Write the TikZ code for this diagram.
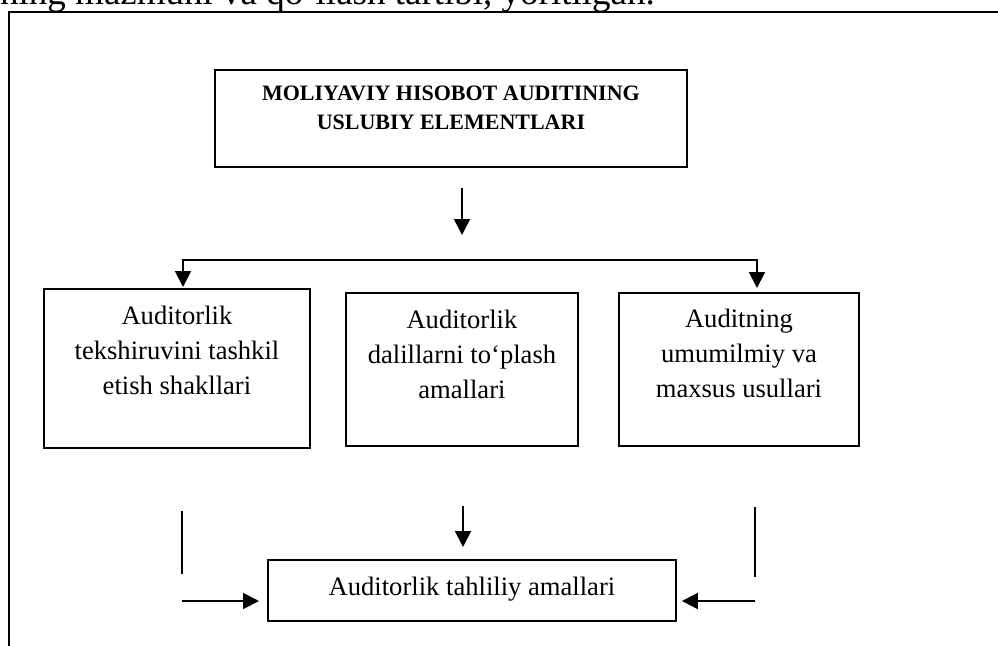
\documentclass[tikz,border=0pt]{standalone}
\usepackage{fontspec}
\setmainfont{Liberation Serif}
\usetikzlibrary{arrows.meta}
\tikzset{
  boxstyle/.style={draw, line width=1.9pt, inner sep=0pt, anchor=north west},
  arr/.style={line width=1.9pt, -{Triangle[width=16pt,length=16pt]}},
  dblarr/.style={line width=1.9pt, {Triangle[width=16pt,length=16pt]}-{Triangle[width=16pt,length=16pt]}},
  plainline/.style={line width=1.4pt},
  framestyle/.style={line width=2.3pt},
  boxfont/.style={font=\fontsize{26.6}{35}\selectfont},
  topfont/.style={font=\fontsize{22}{29}\selectfont\bfseries},
}
\newcommand{\bxtext}[4]{\parbox[c][#1][t]{#2}{\centering\rule{0pt}{#3}#4}}
\begin{document}
\begin{tikzpicture}[x=1pt,y=-1pt]
\useasboundingbox (0,0) rectangle (998,645);
% cut-off running text at the top
\node[anchor=base west, inner sep=0pt, font=\fontsize{37}{44}\selectfont] (head) at (0,5) {ning mazmuni va qo‘llash tartibi, yoritilgan.};
% frame
\coordinate (f1) at (9,650);
\coordinate (f2) at (9,12);
\coordinate (f3) at (1005,12);
\draw[framestyle] (f1) -- (f2) -- (f3);
% boxes
\node[boxstyle, topfont] (T) at (214,69) {\bxtext{97pt}{472pt}{30.5pt}{MOLIYAVIY HISOBOT AUDITINING\\USLUBIY ELEMENTLARI}};
\node[boxstyle, boxfont] (L) at (43,288) {\bxtext{159pt}{266pt}{36pt}{Auditorlik\\tekshiruvini tashkil\\etish shakllari}};
\node[boxstyle, boxfont] (M) at (345,292) {\bxtext{153pt}{232pt}{35.5pt}{Auditorlik\\dalillarni to‘plash\\amallari}};
\node[boxstyle, boxfont] (R) at (618,292) {\bxtext{153pt}{240pt}{35pt}{Auditning\\umumilmiy va\\maxsus usullari}};
\node[boxstyle, boxfont] (B) at (267,559) {\bxtext{61pt}{408pt}{36pt}{Auditorlik tahliliy amallari}};
% top arrow
\coordinate (a1) at (462,188);
\coordinate (a2) at (462,235);
\draw[arr] (a1) -- (a2);
% distribution
\coordinate (sL) at (183,260);
\coordinate (sR) at (757,260);
\coordinate (tL) at (183,287);
\coordinate (tR) at (757,288);
\draw[dblarr] (tL) -- (sL) -- (sR) -- (tR);
% lower part
\coordinate (vl1) at (182,511);
\coordinate (vl2) at (182,574);
\draw[plainline] (vl1) -- (vl2);
\coordinate (vr1) at (755,507);
\coordinate (vr2) at (755,577);
\draw[plainline] (vr1) -- (vr2);
\coordinate (hl) at (182,601);
\coordinate (hr) at (755,601);
\draw[arr, shorten >=8pt] (hl) -- (B.west |- hl);
\draw[arr, shorten >=5pt] (hr) -- (B.east |- hr);
\coordinate (m1) at (463,506);
\draw[arr, shorten >=12pt] (m1) -- (m1 |- B.north);
\end{tikzpicture}
\end{document}
